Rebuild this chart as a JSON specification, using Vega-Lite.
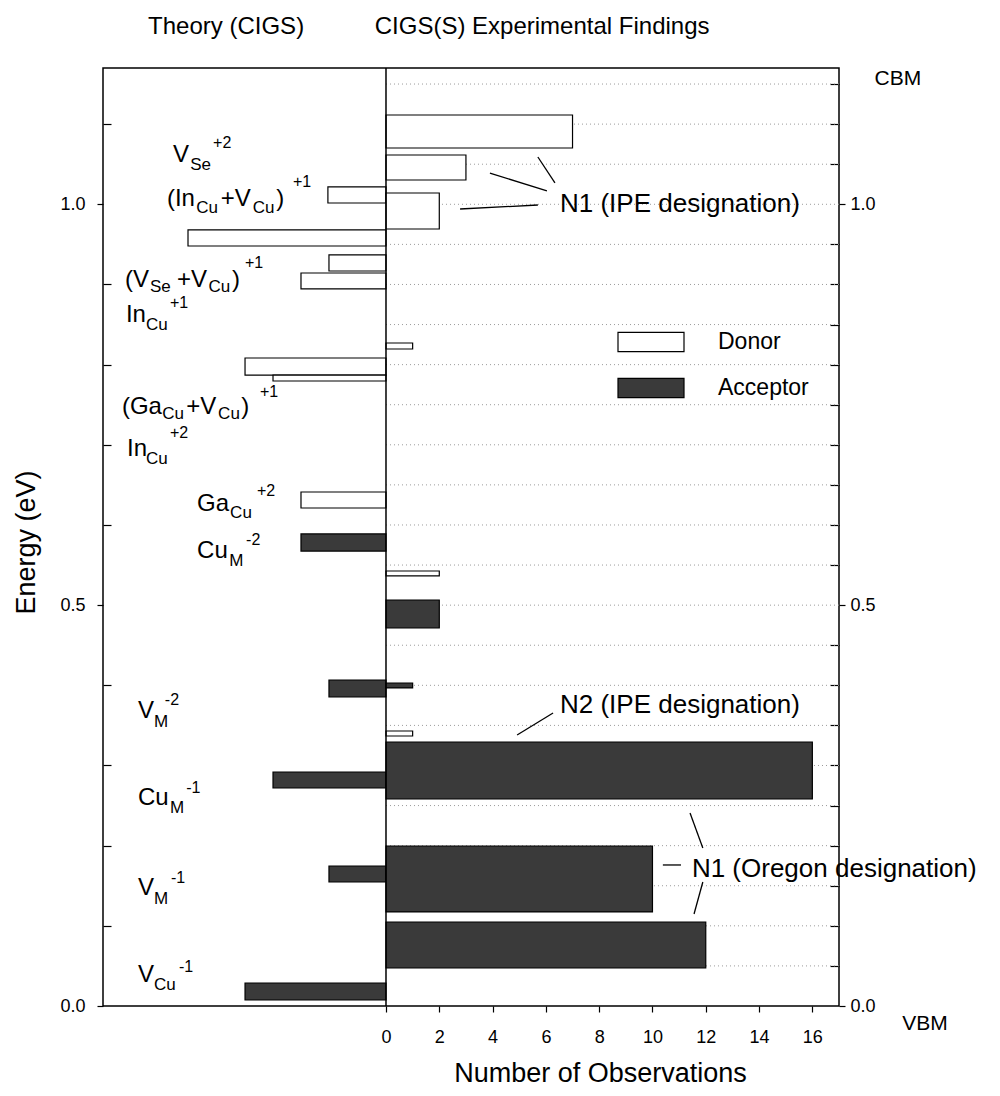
{
  "$schema": "https://vega.github.io/schema/vega-lite/v6.json",
  "width": 736,
  "height": 938,
  "autosize": {"type": "none"},
  "padding": {"left": 103, "top": 68, "right": 161, "bottom": 90},
  "background": "white",
  "config": {
    "view": {"stroke": "black", "strokeWidth": 1.5},
    "font": "Liberation Sans",
    "axis": {"domain": false, "grid": false, "tickColor": "black", "tickWidth": 1.2, "labelColor": "black", "titleColor": "black", "labelFont": "Liberation Sans", "titleFont": "Liberation Sans", "titleFontWeight": "normal"},
    "legend": {"labelFont": "Liberation Sans", "labelColor": "black"}
  },
  "datasets": {
    "grid": [
      {"e": 0.05}, {"e": 0.1}, {"e": 0.15}, {"e": 0.2}, {"e": 0.25}, {"e": 0.3}, {"e": 0.35}, {"e": 0.4}, {"e": 0.45}, {"e": 0.5}, {"e": 0.55}, {"e": 0.6}, {"e": 0.65}, {"e": 0.7}, {"e": 0.75}, {"e": 0.8}, {"e": 0.85}, {"e": 0.9}, {"e": 0.95}, {"e": 1.0}, {"e": 1.05}, {"e": 1.1}, {"e": 1.15}
    ],
    "bars": [
      {"side": "Theory", "type": "Donor", "n": -2.18, "lo": 1.0016, "hi": 1.0216},
      {"side": "Theory", "type": "Donor", "n": -7.43, "lo": 0.948, "hi": 0.968},
      {"side": "Theory", "type": "Donor", "n": -2.14, "lo": 0.9168, "hi": 0.9368},
      {"side": "Theory", "type": "Donor", "n": -3.19, "lo": 0.8944, "hi": 0.9143},
      {"side": "Theory", "type": "Donor", "n": -5.29, "lo": 0.787, "hi": 0.8083},
      {"side": "Theory", "type": "Donor", "n": -4.24, "lo": 0.7796, "hi": 0.787},
      {"side": "Theory", "type": "Donor", "n": -3.19, "lo": 0.6212, "hi": 0.6411},
      {"side": "Theory", "type": "Acceptor", "n": -3.19, "lo": 0.5675, "hi": 0.5888},
      {"side": "Theory", "type": "Acceptor", "n": -2.14, "lo": 0.3854, "hi": 0.4066},
      {"side": "Theory", "type": "Acceptor", "n": -4.24, "lo": 0.2719, "hi": 0.2919},
      {"side": "Theory", "type": "Acceptor", "n": -2.14, "lo": 0.1547, "hi": 0.1746},
      {"side": "Theory", "type": "Acceptor", "n": -5.29, "lo": 0.0075, "hi": 0.0287},
      {"side": "Experiment", "type": "Donor", "n": 7, "lo": 1.0702, "hi": 1.1114},
      {"side": "Experiment", "type": "Donor", "n": 3, "lo": 1.0303, "hi": 1.0615},
      {"side": "Experiment", "type": "Donor", "n": 2, "lo": 0.9692, "hi": 1.0141},
      {"side": "Experiment", "type": "Donor", "n": 1, "lo": 0.8195, "hi": 0.827},
      {"side": "Experiment", "type": "Donor", "n": 2, "lo": 0.5364, "hi": 0.5426},
      {"side": "Experiment", "type": "Acceptor", "n": 2, "lo": 0.4715, "hi": 0.5064},
      {"side": "Experiment", "type": "Acceptor", "n": 1, "lo": 0.3967, "hi": 0.4029},
      {"side": "Experiment", "type": "Donor", "n": 1, "lo": 0.3368, "hi": 0.343},
      {"side": "Experiment", "type": "Acceptor", "n": 16, "lo": 0.2582, "hi": 0.3293},
      {"side": "Experiment", "type": "Acceptor", "n": 10, "lo": 0.1173, "hi": 0.1996},
      {"side": "Experiment", "type": "Acceptor", "n": 12, "lo": 0.0474, "hi": 0.1048}
    ],
    "leaders": [
      {"x1": 5.70, "y1": 1.0590, "x2": 6.34, "y2": 1.0266},
      {"x1": 3.90, "y1": 1.0390, "x2": 6.04, "y2": 1.0166},
      {"x1": 2.78, "y1": 0.9941, "x2": 5.70, "y2": 0.9991},
      {"x1": 6.27, "y1": 0.3655, "x2": 4.92, "y2": 0.3380},
      {"x1": 10.39, "y1": 0.1759, "x2": 11.07, "y2": 0.1759},
      {"x1": 11.41, "y1": 0.2407, "x2": 11.89, "y2": 0.1971},
      {"x1": 11.89, "y1": 0.1547, "x2": 11.56, "y2": 0.1148}
    ],
    "labels": [
      {"t": "V", "x": -7.99, "y": 1.0528, "p": "main"},
      {"t": "Se", "x": -7.35, "y": 1.0428, "p": "sub"},
      {"t": "+2", "x": -6.49, "y": 1.0702, "p": "sup"},
      {"t": "(In", "x": -8.22, "y": 0.9979, "p": "main"},
      {"t": "Cu", "x": -7.12, "y": 0.9891, "p": "sub"},
      {"t": "+V", "x": -6.20, "y": 0.9979, "p": "main"},
      {"t": "Cu", "x": -5.00, "y": 0.9891, "p": "sub"},
      {"t": ")", "x": -4.12, "y": 0.9979, "p": "main"},
      {"t": "+1", "x": -3.49, "y": 1.0216, "p": "sup"},
      {"t": "(V", "x": -9.79, "y": 0.8968, "p": "main"},
      {"t": "Se", "x": -8.86, "y": 0.8906, "p": "sub"},
      {"t": "+V", "x": -7.84, "y": 0.8968, "p": "main"},
      {"t": "Cu", "x": -6.66, "y": 0.8906, "p": "sub"},
      {"t": ")", "x": -5.78, "y": 0.8968, "p": "main"},
      {"t": "+1", "x": -5.29, "y": 0.9205, "p": "sup"},
      {"t": "In", "x": -9.76, "y": 0.8532, "p": "main"},
      {"t": "Cu", "x": -9.01, "y": 0.8432, "p": "sub"},
      {"t": "+1", "x": -8.11, "y": 0.8707, "p": "sup"},
      {"t": "(Ga", "x": -9.91, "y": 0.7384, "p": "main"},
      {"t": "Cu", "x": -8.40, "y": 0.7322, "p": "sub"},
      {"t": "+V", "x": -7.50, "y": 0.7384, "p": "main"},
      {"t": "Cu", "x": -6.30, "y": 0.7322, "p": "sub"},
      {"t": ")", "x": -5.43, "y": 0.7384, "p": "main"},
      {"t": "+1", "x": -4.73, "y": 0.7596, "p": "sup"},
      {"t": "In", "x": -9.72, "y": 0.6860, "p": "main"},
      {"t": "Cu", "x": -9.01, "y": 0.6761, "p": "sub"},
      {"t": "+2", "x": -8.11, "y": 0.7085, "p": "sup"},
      {"t": "Ga", "x": -7.09, "y": 0.6174, "p": "main"},
      {"t": "Cu", "x": -5.85, "y": 0.6087, "p": "sub"},
      {"t": "+2", "x": -4.84, "y": 0.6362, "p": "sup"},
      {"t": "Cu", "x": -7.09, "y": 0.5588, "p": "main"},
      {"t": "M", "x": -5.88, "y": 0.5488, "p": "sub"},
      {"t": "-2", "x": -5.25, "y": 0.5750, "p": "sup"},
      {"t": "V", "x": -9.31, "y": 0.3592, "p": "main"},
      {"t": "M", "x": -8.71, "y": 0.3480, "p": "sub"},
      {"t": "-2", "x": -8.30, "y": 0.3755, "p": "sup"},
      {"t": "Cu", "x": -9.31, "y": 0.2507, "p": "main"},
      {"t": "M", "x": -8.11, "y": 0.2407, "p": "sub"},
      {"t": "-1", "x": -7.50, "y": 0.2657, "p": "sup"},
      {"t": "V", "x": -9.31, "y": 0.1385, "p": "main"},
      {"t": "M", "x": -8.71, "y": 0.1272, "p": "sub"},
      {"t": "-1", "x": -8.07, "y": 0.1534, "p": "sup"},
      {"t": "V", "x": -9.31, "y": 0.0299, "p": "main"},
      {"t": "Cu", "x": -8.71, "y": 0.0200, "p": "sub"},
      {"t": "-1", "x": -7.77, "y": 0.0424, "p": "sup"}
    ],
    "notes": [
      {"t": "N1 (IPE designation)", "x": 6.53, "y": 0.9904},
      {"t": "N2 (IPE designation)", "x": 6.53, "y": 0.3655},
      {"t": "N1 (Oregon designation)", "x": 11.48, "y": 0.1609}
    ],
    "heads": [
      {"t": "Theory (CIGS)", "x": -6.0, "y": 1.2124},
      {"t": "CIGS(S) Experimental Findings", "x": 5.86, "y": 1.2124}
    ],
    "ends": [
      {"t": "CBM", "x": 19.21, "y": 1.1488},
      {"t": "VBM", "x": 20.23, "y": -0.030}
    ]
  },
  "resolve": {"axis": {"x": "independent", "y": "independent"}},
  "layer": [
    {
      "data": {"name": "grid"},
      "mark": {"type": "rule", "stroke": "#9a9a9a", "strokeDash": [1, 3], "strokeWidth": 1},
      "encoding": {
        "y": {"field": "e", "type": "quantitative", "scale": {"domain": [0, 1.17], "nice": false, "zero": false},
          "axis": {"orient": "right", "values": [0.05, 0.1, 0.15, 0.2, 0.25, 0.3, 0.35, 0.4, 0.45, 0.55, 0.6, 0.65, 0.7, 0.75, 0.8, 0.85, 0.9, 0.95, 1.05, 1.1, 1.15], "labels": false, "tickSize": -9, "title": null}},
        "x": {"datum": 0, "type": "quantitative", "scale": {"domain": [-10.62, 17], "nice": false, "zero": false}, "axis": null},
        "x2": {"datum": 17}
      }
    },
    {
      "data": {"name": "bars"},
      "mark": {"type": "rect", "stroke": "black", "strokeWidth": 1.2},
      "encoding": {
        "x": {"field": "n", "type": "quantitative", "scale": {"domain": [-10.62, 17], "nice": false, "zero": false},
          "axis": {"orient": "bottom", "values": [0, 2, 4, 6, 8, 10, 12, 14, 16], "tickSize": 6, "labelFontSize": 18, "labelPadding": 16, "labelFlush": false, "title": "Number of Observations", "titleFontSize": 27, "titleX": 497, "titleY": 67, "titleAlign": "center", "titleBaseline": "middle", "titleAnchor": null}},
        "x2": {"datum": 0},
        "y": {"field": "lo", "type": "quantitative", "scale": {"domain": [0, 1.17], "nice": false, "zero": false},
          "axis": {"orient": "left", "values": [0, 0.5, 1.0], "format": ".1f", "tickSize": 6, "labelFontSize": 18, "labelPadding": 12, "title": "Energy (eV)", "titleFontSize": 27, "titleX": -77, "titleY": 474, "titleAngle": 270, "titleAlign": "center", "titleBaseline": "middle", "titleAnchor": null}},
        "y2": {"field": "hi"},
        "fill": {"field": "type", "type": "nominal", "scale": {"domain": ["Donor", "Acceptor"], "range": ["white", "#3a3a3a"]},
          "legend": {"orient": "none", "legendX": 514, "legendY": 240, "title": null, "padding": 0, "symbolType": "M-1,-0.29L1,-0.29L1,0.29L-1,0.29Z", "symbolSize": 4356, "symbolStrokeColor": "black", "symbolStrokeWidth": 1.2, "labelFontSize": 23, "labelOffset": 33, "rowPadding": -25}}
      }
    },
    {
      "data": {"values": [{}]},
      "mark": {"type": "rule", "stroke": "black", "strokeWidth": 1.5},
      "encoding": {
        "x": {"datum": 0, "type": "quantitative", "scale": {"domain": [-10.62, 17], "nice": false, "zero": false}, "axis": null}
      }
    },
    {
      "data": {"name": "leaders"},
      "mark": {"type": "rule", "stroke": "black", "strokeWidth": 1.3},
      "encoding": {
        "x": {"field": "x1", "type": "quantitative", "scale": {"domain": [-10.62, 17], "nice": false, "zero": false}, "axis": null},
        "x2": {"field": "x2"},
        "y": {"field": "y1", "type": "quantitative", "scale": {"domain": [0, 1.17], "nice": false, "zero": false},
          "axis": {"orient": "left", "values": [0.1, 0.2, 0.3, 0.4, 0.6, 0.7, 0.8, 0.9, 1.1], "labels": false, "tickSize": -8, "title": null}},
        "y2": {"field": "y2"}
      }
    },
    {
      "data": {"name": "labels"},
      "transform": [{"filter": "datum.p == 'main'"}],
      "mark": {"type": "text", "font": "Liberation Sans", "fontSize": 24, "align": "left", "baseline": "alphabetic", "fill": "black"},
      "encoding": {
        "x": {"field": "x", "type": "quantitative", "scale": {"domain": [-10.62, 17], "nice": false, "zero": false}, "axis": null},
        "y": {"field": "y", "type": "quantitative", "scale": {"domain": [0, 1.17], "nice": false, "zero": false},
          "axis": {"orient": "right", "values": [0, 0.5, 1.0], "format": ".1f", "tickSize": 6, "labelFontSize": 18, "labelPadding": 5, "title": null}},
        "text": {"field": "t", "type": "nominal"}
      }
    },
    {
      "data": {"name": "labels"},
      "transform": [{"filter": "datum.p == 'sub'"}],
      "mark": {"type": "text", "font": "Liberation Sans", "fontSize": 17, "align": "left", "baseline": "alphabetic", "fill": "black"},
      "encoding": {
        "x": {"field": "x", "type": "quantitative", "scale": {"domain": [-10.62, 17], "nice": false, "zero": false}, "axis": null},
        "y": {"field": "y", "type": "quantitative", "scale": {"domain": [0, 1.17], "nice": false, "zero": false}, "axis": null},
        "text": {"field": "t", "type": "nominal"}
      }
    },
    {
      "data": {"name": "labels"},
      "transform": [{"filter": "datum.p == 'sup'"}],
      "mark": {"type": "text", "font": "Liberation Sans", "fontSize": 16, "align": "left", "baseline": "alphabetic", "fill": "black"},
      "encoding": {
        "x": {"field": "x", "type": "quantitative", "scale": {"domain": [-10.62, 17], "nice": false, "zero": false}, "axis": null},
        "y": {"field": "y", "type": "quantitative", "scale": {"domain": [0, 1.17], "nice": false, "zero": false}, "axis": null},
        "text": {"field": "t", "type": "nominal"}
      }
    },
    {
      "data": {"name": "notes"},
      "mark": {"type": "text", "font": "Liberation Sans", "fontSize": 26, "align": "left", "baseline": "alphabetic", "fill": "black"},
      "encoding": {
        "x": {"field": "x", "type": "quantitative", "scale": {"domain": [-10.62, 17], "nice": false, "zero": false}, "axis": null},
        "y": {"field": "y", "type": "quantitative", "scale": {"domain": [0, 1.17], "nice": false, "zero": false}, "axis": null},
        "text": {"field": "t", "type": "nominal"}
      }
    },
    {
      "data": {"name": "heads"},
      "mark": {"type": "text", "font": "Liberation Sans", "fontSize": 24, "align": "center", "baseline": "alphabetic", "fill": "black"},
      "encoding": {
        "x": {"field": "x", "type": "quantitative", "scale": {"domain": [-10.62, 17], "nice": false, "zero": false}, "axis": null},
        "y": {"field": "y", "type": "quantitative", "scale": {"domain": [0, 1.17], "nice": false, "zero": false}, "axis": null},
        "text": {"field": "t", "type": "nominal"}
      }
    },
    {
      "data": {"name": "ends"},
      "mark": {"type": "text", "font": "Liberation Sans", "fontSize": 21, "align": "center", "baseline": "alphabetic", "fill": "black"},
      "encoding": {
        "x": {"field": "x", "type": "quantitative", "scale": {"domain": [-10.62, 17], "nice": false, "zero": false}, "axis": null},
        "y": {"field": "y", "type": "quantitative", "scale": {"domain": [0, 1.17], "nice": false, "zero": false}, "axis": null},
        "text": {"field": "t", "type": "nominal"}
      }
    }
  ]
}
